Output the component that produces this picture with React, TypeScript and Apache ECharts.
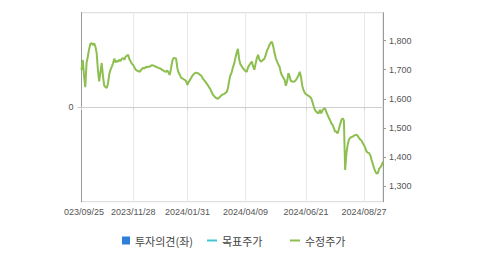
import React, { useEffect, useRef } from "react";
import * as echarts from "echarts";

// Korean trading days from 2023/09/25 to 2024/09/20
const startDate = "2023-09-25";
const endDate = "2024-09-20";
const holidays = [
  "2023/09/28", "2023/09/29", "2023/10/02", "2023/10/03", "2023/10/09",
  "2023/12/25", "2023/12/29", "2024/01/01", "2024/02/09", "2024/02/12",
  "2024/03/01", "2024/04/10", "2024/05/01", "2024/05/06", "2024/05/15",
  "2024/06/06", "2024/08/15", "2024/09/16", "2024/09/17", "2024/09/18",
];
const labelDates = ["2023/09/25", "2023/11/28", "2024/01/31", "2024/04/09", "2024/06/21", "2024/08/27"];

const fmt = (d: Date) =>
  `${d.getUTCFullYear()}/${String(d.getUTCMonth() + 1).padStart(2, "0")}/${String(d.getUTCDate()).padStart(2, "0")}`;

const buildDates = () => {
  const out: string[] = [];
  const d = new Date(startDate + "T00:00:00Z");
  const end = new Date(endDate + "T00:00:00Z");
  while (d <= end) {
    const wd = d.getUTCDay();
    const s = fmt(d);
    if (wd !== 0 && wd !== 6 && !holidays.includes(s)) out.push(s);
    d.setUTCDate(d.getUTCDate() + 1);
  }
  return out;
};
const dates = buildDates();

const adjustedPrice = [
  1699, 1734, 1680, 1640, 1723, 1745, 1770, 1788, 1792, 1785,
  1790, 1780, 1758, 1700, 1660, 1690, 1723, 1680, 1645, 1640,
  1637, 1652, 1685, 1700, 1710, 1722, 1738, 1725, 1730, 1728,
  1734, 1730, 1738, 1740, 1735, 1745, 1748, 1751, 1736, 1728,
  1720, 1716, 1708, 1700, 1697, 1695, 1693, 1698, 1703, 1706,
  1704, 1710, 1708, 1711, 1710, 1713, 1716, 1714, 1712, 1710,
  1708, 1706, 1705, 1703, 1699, 1697, 1694, 1693, 1697, 1690,
  1682, 1705, 1730, 1740, 1740, 1738, 1705, 1690, 1682, 1672,
  1670, 1667, 1665, 1660, 1648, 1658, 1665, 1672, 1680, 1685,
  1688, 1690, 1688, 1686, 1682, 1679, 1671, 1665, 1660, 1654,
  1648, 1640, 1634, 1625, 1615, 1610, 1605, 1602, 1600, 1603,
  1608, 1612, 1615, 1616, 1620, 1623, 1635, 1660, 1680, 1690,
  1708, 1720, 1740, 1758, 1772, 1735, 1718, 1712, 1705, 1700,
  1695, 1693, 1708, 1715, 1722, 1728, 1712, 1700, 1720, 1740,
  1751, 1735, 1728, 1730, 1734, 1738, 1750, 1765, 1774, 1785,
  1793, 1796, 1780, 1758, 1740, 1728, 1718, 1710, 1690, 1680,
  1672, 1665, 1645, 1660, 1688, 1677, 1660, 1660, 1658, 1660,
  1665, 1672, 1680, 1693, 1675, 1645, 1630, 1620, 1615, 1613,
  1610, 1607, 1602, 1590, 1575, 1562, 1556, 1552, 1550, 1562,
  1550, 1560, 1565, 1567, 1556, 1545, 1535, 1527, 1516, 1510,
  1500, 1487, 1487, 1481, 1495, 1512, 1527, 1533, 1525, 1355,
  1413, 1441, 1460, 1466, 1468, 1470, 1473, 1475, 1476, 1472,
  1465, 1460, 1456, 1447, 1440, 1430, 1418, 1415, 1413, 1405,
  1389, 1375, 1360, 1350, 1342, 1345, 1360, 1365, 1372, 1384,
];
const opinion: number[] = [];
const targetPrice: number[] = [];

const rightTicks = [1300, 1400, 1500, 1600, 1700, 1800];
const leftTicks = [0];

const comma = (v: number) => String(v).replace(/\B(?=(\d{3})+(?!\d))/g, ",");

export default function App() {
  const ref = useRef<HTMLDivElement>(null);
  useEffect(() => {
    if (!ref.current) return;
    const chart = echarts.init(ref.current, null, { renderer: "svg" });
    const isLabel = (_i: number, v: string) => labelDates.includes(v);
    const legendText = { fontSize: 11, color: "#444", fontFamily: "'Noto Sans CJK KR', sans-serif" };
    chart.setOption({
      animation: false,
      textStyle: { fontFamily: "Liberation Sans, 'Noto Sans CJK KR', sans-serif" },
      grid: {
        left: 17.5,
        right: 96,
        top: 12.7,
        bottom: 52.3,
        outerBoundsMode: "none",
        containLabel: false,
        show: true,
        borderColor: "#d8d8d8",
        borderWidth: 1,
      },
      legend: [
        {
          data: ["투자의견(좌)"],
          left: 53,
          top: 230,
          icon: "rect",
          itemWidth: 8,
          itemHeight: 8,
          itemGap: 0,
          textStyle: legendText,
        },
        {
          data: ["목표주가"],
          left: 138,
          top: 230,
          icon: "rect",
          itemWidth: 10,
          itemHeight: 2,
          textStyle: legendText,
        },
        {
          data: ["수정주가"],
          left: 221,
          top: 230,
          icon: "rect",
          itemWidth: 10,
          itemHeight: 2,
          textStyle: legendText,
        },
      ],
      xAxis: {
        type: "category",
        data: dates,
        boundaryGap: false,
        axisLine: { lineStyle: { color: "#cfcfcf" } },
        axisTick: { interval: isLabel, length: 3, lineStyle: { color: "#cfcfcf" } },
        axisLabel: { interval: isLabel, fontSize: 9, color: "#555", margin: 6, hideOverlap: false },
        splitLine: { show: true, interval: isLabel, lineStyle: { color: "#e8e8e8" } },
      },
      yAxis: [
        {
          type: "value",
          position: "left",
          min: -1,
          max: 1,
          interval: 1,
          axisLine: { show: true, lineStyle: { color: "#999" } },
          axisTick: { show: true, length: 4, customValues: leftTicks, lineStyle: { color: "#ccc" } },
          axisLabel: { customValues: leftTicks, fontSize: 9, color: "#555", margin: 8 },
          splitLine: { show: true, lineStyle: { color: "#ececec" } },
        },
        {
          type: "value",
          position: "right",
          min: 1246,
          max: 1896,
          axisLine: { show: true, lineStyle: { color: "#999" } },
          axisTick: { show: true, length: 3, customValues: rightTicks, lineStyle: { color: "#999" } },
          axisLabel: { customValues: rightTicks, fontSize: 9, color: "#555", margin: 6, formatter: (v: number) => comma(v) },
          splitLine: { show: false },
        },
      ],
      series: [
        { name: "투자의견(좌)", type: "bar", yAxisIndex: 0, data: opinion, itemStyle: { color: "#2f7ed8" } },
        { name: "목표주가", type: "line", yAxisIndex: 1, data: targetPrice, itemStyle: { color: "#3ec6d6" }, lineStyle: { color: "#3ec6d6" } },
        {
          name: "수정주가",
          type: "line",
          yAxisIndex: 1,
          data: adjustedPrice,
          showSymbol: false,
          symbol: "none",
          itemStyle: { color: "#8dbf4f" },
          lineStyle: { color: "#8dbf4f", width: 2 },
        },
      ],
    });
    return () => chart.dispose();
  }, []);
  return <div ref={ref} style={{ position: "absolute", left: 64, top: 0, width: 415, height: 254 }} />;
}
